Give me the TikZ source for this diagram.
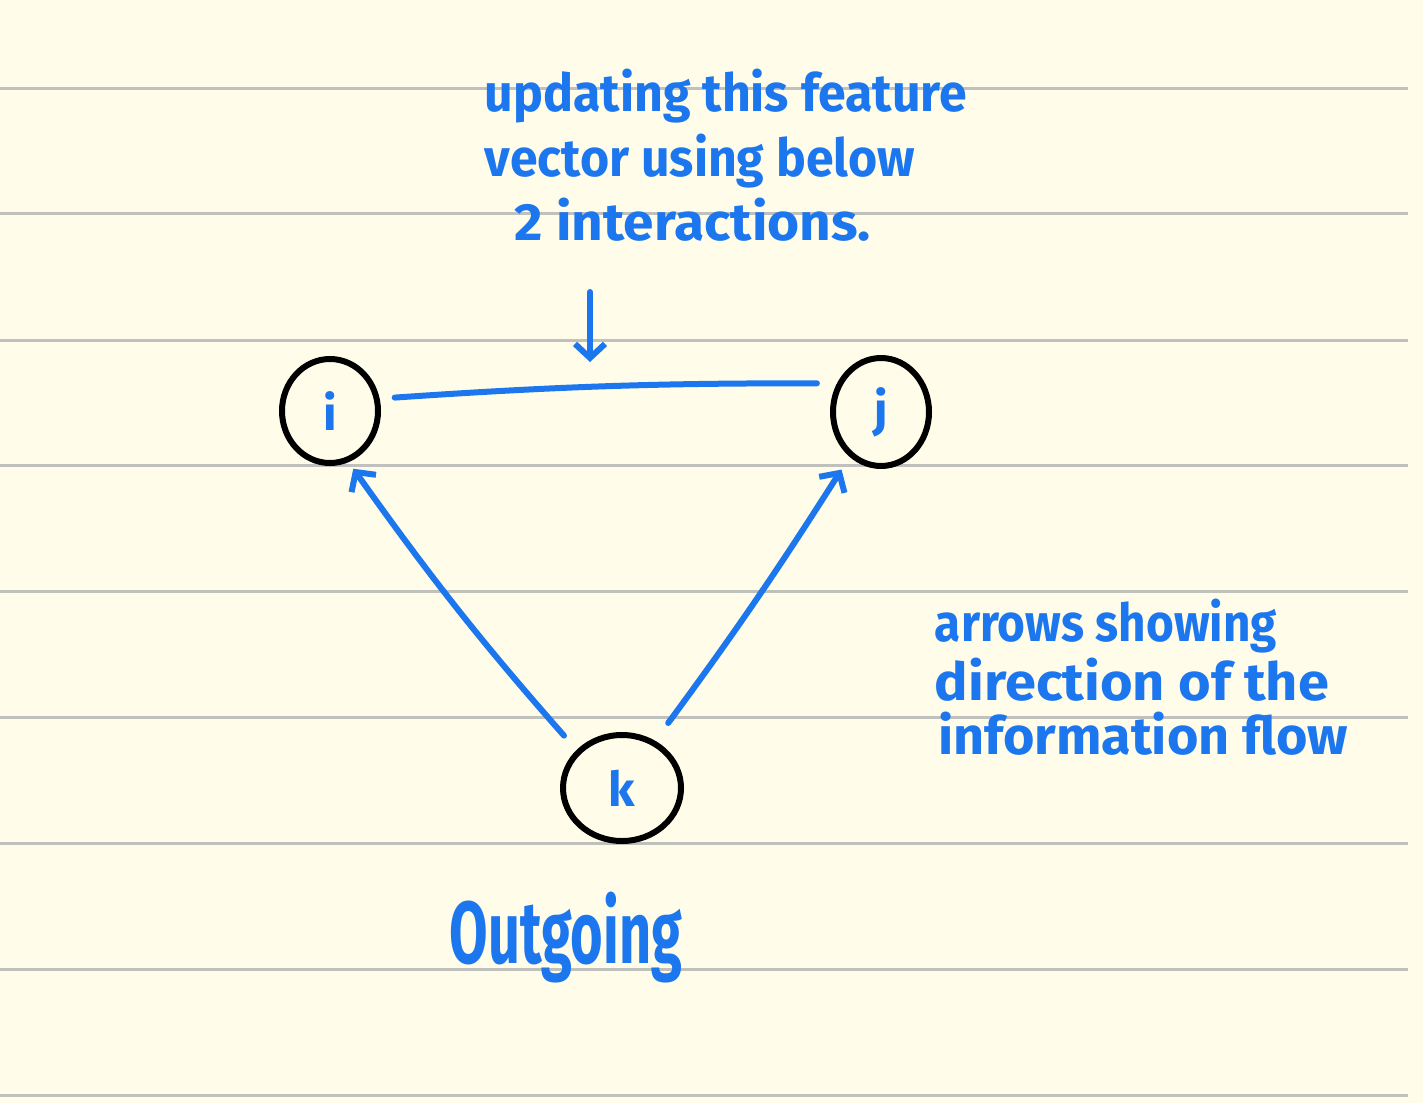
\documentclass[tikz,border=0pt]{standalone}
\usepackage{fontspec}
\setmainfont{Fira Sans}
\usetikzlibrary{shapes.geometric,arrows.meta}
\definecolor{paper}{RGB}{255,253,233}
\definecolor{rule}{RGB}{192,192,188}
\definecolor{pen}{RGB}{28,118,238}
\newcommand{\hand}[3]{\resizebox{#1}{#2}{\bfseries\strut #3}}
\tikzset{
  x=0.5pt, y=-0.5pt,
  ruleline/.style={draw=rule, line width=1.5pt},
  blob/.style={ellipse, draw=black, line width=3pt, inner sep=0pt},
  label/.style={text=pen, font=\fontsize{24}{28}\selectfont\bfseries},
  note/.style={text=pen, inner sep=0pt, anchor=center},
  penline/.style={draw=pen, line width=3pt, line cap=round},
  penarrow/.style={penline, -{Straight Barb[length=7pt,width=15pt,line width=3pt]}},
}
\begin{document}
\begin{tikzpicture}
\fill[paper] (0,0) rectangle (1423,1103);
\useasboundingbox (0,0) rectangle (1423,1103);
\foreach \yy in {88,213,340,465,591,717,843,969,1095}
  \draw[ruleline] (0,\yy) -- (1408,\yy);

% nodes
\node[blob, minimum width=48pt, minimum height=52pt, label] (i) at (330,411) {i};
\node[blob, minimum width=48pt, minimum height=54pt, label] (j) at (881,412) {j};
\node[blob, minimum width=59pt, minimum height=53pt, label] (k) at (622,788) {k};

% texts
\node[note] (t1) at (726,99) {\hand{241pt}{22pt}{updating this feature}};
\node[note] (t2) at (700,164) {\hand{215pt}{22pt}{vector using below}};
\node[note] (t3) at (693,228) {\hand{178pt}{22pt}{2 interactions.}};
\node[note] (t4) at (1106,629) {\hand{171pt}{22pt}{arrows showing}};
\node[note] (t5) at (1132,688) {\hand{197pt}{22pt}{direction of the}};
\node[note] (t6) at (1143,742) {\hand{205pt}{22pt}{information flow}};
\node[note] (t7) at (566,942) {\hand{116pt}{37pt}{Outgoing}};

% connectors
\draw[penline, shorten <=7.5pt, shorten >=10pt] (i.14) to[bend left=2] (j.147);
\coordinate (a1) at (590,292);
\coordinate (a2) at (590,362);
\draw[penarrow] (a1) -- (a2);
\draw[penarrow, shorten <=9.5pt, shorten >=4pt] (k.140) to[bend left=3] (i.-70);
\draw[penarrow, shorten <=11pt, shorten >=7.5pt] (k.55) to[bend right=2] (j.-125);
\end{tikzpicture}
\end{document}
